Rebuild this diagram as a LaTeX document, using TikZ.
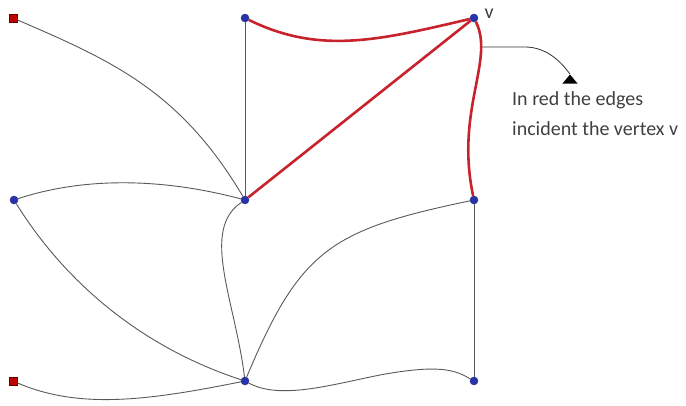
\documentclass[tikz,border=0pt]{standalone}
\usepackage{fontspec}
\setmainfont{Carlito}
\usetikzlibrary{arrows.meta,shapes.geometric}
\definecolor{redge}{RGB}{200,35,45}
\definecolor{vblue}{RGB}{40,50,170}
\begin{document}
\begin{tikzpicture}[x=1pt,y=-1pt,
  vtx/.style={circle,fill=vblue,draw=vblue!80!black,inner sep=0pt,minimum size=8pt},
  sq/.style={rectangle,fill=red!75!black,draw=red!40!black,inner sep=0pt,minimum size=8pt},
  edge/.style={draw=black!65,line width=0.9pt},
  redge/.style={draw=redge,line width=2.6pt},
  lbl/.style={text=black!75,font=\fontsize{20}{30}\selectfont}]
\useasboundingbox (0,0) rectangle (686,405);
\node[sq] (s1) at (13,18) {};
\node[vtx] (a) at (245,18) {};
\node[vtx] (v) at (474,18) {};
\node[vtx] (b) at (14,200) {};
\node[vtx] (c) at (245,200) {};
\node[vtx] (d) at (474,200) {};
\node[sq] (s2) at (13,381) {};
\node[vtx] (e) at (245,381) {};
\node[vtx] (f) at (474,381) {};
\node[lbl,anchor=west] (vl) at (481,14) {v};
% black edges
\draw[edge] (s1) .. controls (110,60) and (180,90) .. (c);
\draw[edge] (a) -- (c);
\draw[edge] (b) .. controls (90,175) and (170,180) .. (c);
\draw[edge] (b) .. controls (70,290) and (150,350) .. (e);
\draw[edge] (c) .. controls (200,230) and (235,300) .. (e);
\draw[edge] (e) .. controls (300,250) and (330,230) .. (d);
\draw[edge] (d) -- (f);
\draw[edge] (s2) .. controls (80,410) and (150,400) .. (e);
\draw[edge] (e) .. controls (280,400) and (330,385) .. (380,375) .. controls (440,364) and (455,370) .. (f);
% red edges
\draw[redge] (a) .. controls (320,55) and (380,40) .. (v);
\draw[redge] (c) -- (v);
\draw[redge] (v) .. controls (495,60) and (455,110) .. (d);
% annotation
\coordinate (p) at (482,47);
\node[isosceles triangle,isosceles triangle apex angle=80,shape border rotate=90,fill=black,inner sep=0pt,minimum height=9pt] (tip) at (570,80) {};
\draw[black!80,line width=0.8pt] (p) -- (525,47) .. controls (545,47) and (560,60) .. (tip.apex);
\node[lbl,anchor=north west,align=left,inner sep=0pt] (t) at (512,91) {In red the edges\\incident the vertex v};
\end{tikzpicture}
\end{document}
